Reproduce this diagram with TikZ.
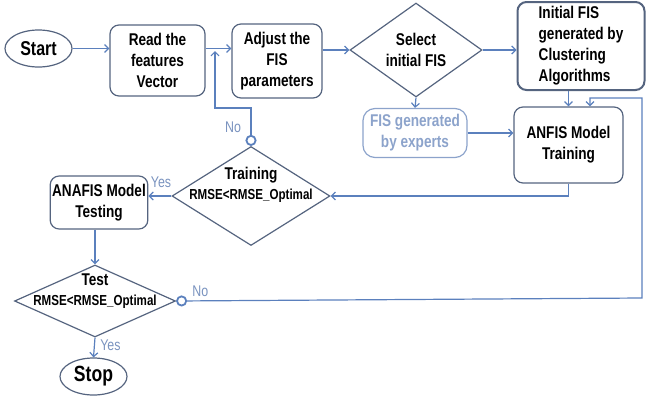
\documentclass[tikz,border=0pt]{standalone}
\usepackage{fontspec}
\setmainfont{Liberation Sans}[FakeStretch=0.8]
\usetikzlibrary{shapes.geometric,arrows.meta}

\definecolor{nodeline}{HTML}{55647F}
\definecolor{flowblue}{HTML}{5B80BD}
\definecolor{lblblue}{HTML}{7A93BF}
\definecolor{expblue}{HTML}{8CA3CB}

\tikzset{
  block/.style={draw=nodeline, line width=1.2pt, rounded corners=9pt, align=center,
    font=\fontsize{17}{21}\selectfont\bfseries, inner sep=2pt},
  term/.style={ellipse, draw=nodeline, line width=1.2pt, minimum width=67pt,
    minimum height=37pt, inner sep=0pt, font=\fontsize{20}{22}\selectfont\bfseries},
  decision/.style={diamond, draw=nodeline, line width=1.2pt, inner sep=0pt},
  dtext/.style={align=center, font=\fontsize{14.5}{20}\selectfont\bfseries},
  flow/.style={draw=flowblue, line width=1.2pt, -{Straight Barb[length=4pt,width=8pt]}},
  noflow/.style={flow, {Circle[open,length=11pt,width=11pt,line width=1.8pt]}-{Straight Barb[length=4pt,width=8pt]}},
  lbl/.style={text=lblblue, font=\fontsize{15.5}{17}\selectfont}
}
\newcommand{\bigline}[1]{{\fontsize{17}{20}\selectfont #1}}

\begin{document}
\begin{tikzpicture}[x=1pt, y=-1pt]
  \useasboundingbox (0,0) rectangle (648,405);

  % top row
  \node[term] (start) at (38.5,48.5) {Start};
  \node[block, minimum width=95pt, minimum height=71pt] (read) at (157.5,60.5)
    {Read the\\features\\Vector};
  \node[block, minimum width=90pt, minimum height=74pt] (adjust) at (277,61)
    {Adjust the\\FIS\\parameters};
  \node[decision, minimum width=132pt, minimum height=80pt,
    font=\fontsize{17}{21}\selectfont\bfseries, align=center] (select) at (416,50)
    {Select\\initial FIS};
  \node[block, line width=2pt, align=left, minimum width=127pt, minimum height=88pt] (init) at (581,46)
    {Initial FIS\\generated by\\Clustering\\Algorithms};

  % second row
  \node[block, draw=expblue, text=expblue, rounded corners=12pt,
    minimum width=104pt, minimum height=49pt] (experts) at (415,133)
    {FIS generated\\by experts};
  \node[block, minimum width=109pt, minimum height=76pt] (anfis) at (568.5,145)
    {ANFIS Model\\Training};

  % training check and testing
  \node[decision, minimum width=158pt, minimum height=99pt,
    label={[dtext, yshift=11pt]center:\bigline{Training}\\RMSE<RMSE\_Optimal}] (train) at (251,196) {};
  \node[block, minimum width=96pt, minimum height=53pt] (testing) at (99,202.5)
    {ANAFIS Model\\Testing};

  % test check and end
  \node[decision, minimum width=161pt, minimum height=72pt,
    label={[dtext, yshift=10pt]center:\bigline{Test}\\RMSE<RMSE\_Optimal}] (test) at (95,301) {};
  \node[term, font=\fontsize{22}{24}\selectfont\bfseries] (stop) at (93.5,376.5) {Stop};

  \coordinate (back) at (215,51);
  \coordinate (loop) at (642,298);

  % connectors
  \draw[flow] (start) -- (start -| read.west);
  \draw[flow] (start -| read.east) -- (start -| adjust.west);
  \draw[flow] (select -| adjust.east) -- (select.west);
  \draw[flow] (select.east) -- (select -| init.west);
  \draw[flow] (select.south) -- (experts.north);
  \draw[flow] (experts.east) -- (experts -| anfis.west);
  \draw[flow] (anfis.north |- init.south) -- (anfis.north);
  \draw[flow] (anfis.south) |- (train.east);
  \draw[flow] (train.west) -- node[lbl, above, pos=0.45, yshift=4pt]{Yes} (train.west -| testing.east);
  \draw[flow] (test.north |- testing.south) -- (test.north);
  \draw[flow] (test.south) -- node[lbl, right, pos=0.4, xshift=2pt]{Yes} (stop.north);
  \draw[noflow] (train.north) -- node[lbl, left, pos=0.5, xshift=-6pt]{No} (train.north |- 0,108) -| (back);
  \draw[noflow] (test.east) -- node[lbl, above, pos=0.035, xshift=8pt]{No} (loop) |- (590,98) -- (anfis.north -| 590,0);
\end{tikzpicture}
\end{document}
